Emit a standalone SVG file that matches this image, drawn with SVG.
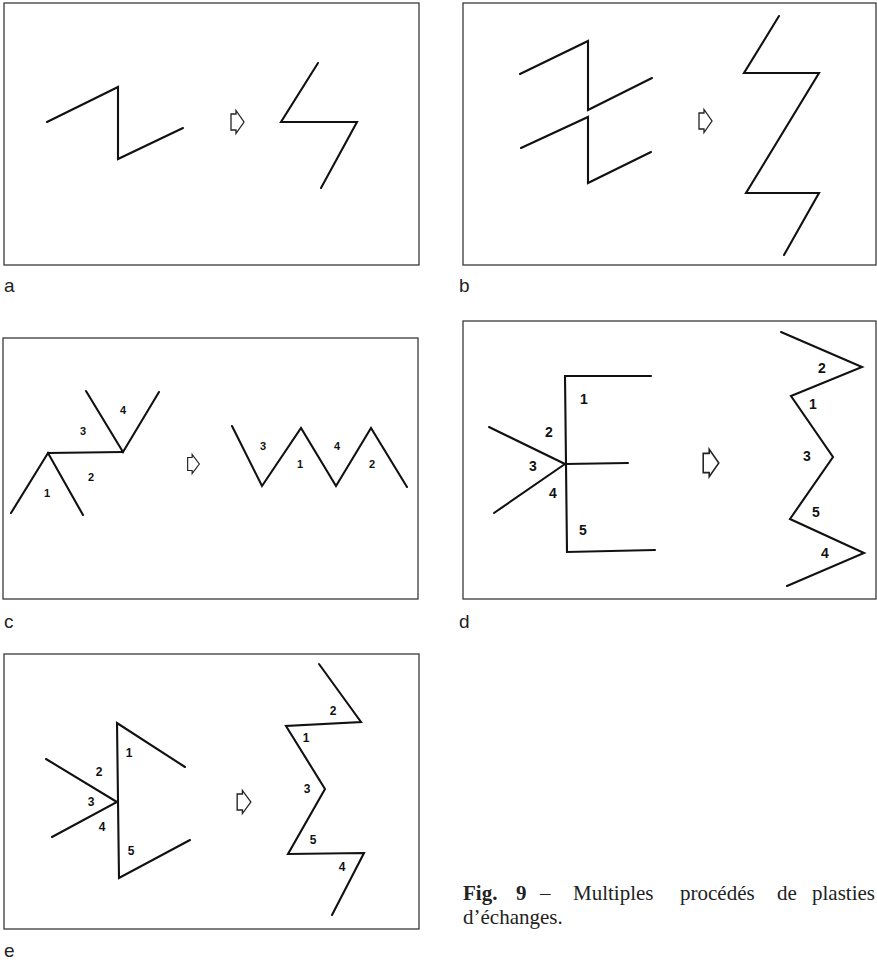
<svg xmlns="http://www.w3.org/2000/svg" width="877" height="963" viewBox="0 0 877 963">
<defs>
<style>
.frame{fill:#ffffff;stroke:#3a3a3a;stroke-width:1.3}
.ln{fill:none;stroke:#111;stroke-width:2.1;stroke-linejoin:miter;stroke-linecap:round}
.arr{fill:#fff;stroke:#222;stroke-width:1.3;stroke-linejoin:miter}
.lab{font-family:"Liberation Sans",Arial,sans-serif;font-size:19px;fill:#222}
.n{font-family:"Liberation Sans",Arial,sans-serif;font-weight:bold;fill:#111;text-anchor:middle}
.cap{font-family:"Liberation Serif","Times New Roman",serif;font-size:21px;fill:#222}
</style>
<path id="arrow" class="arr" d="M-6.5,-8 H-1.5 V-11.5 L6.5,0 L-1.5,11.5 V8 H-6.5 Z"/>
</defs>
<rect width="877" height="963" fill="#fff"/>

<g id="panel-a">
<rect class="frame" x="4" y="3" width="415" height="262"/>
<polyline class="ln" points="47,122 118,87 118,159 183,128"/>
<use href="#arrow" x="237.5" y="122"/>
<polyline class="ln" points="318,63 281,122 357,122 321,188"/>
<text class="lab" x="4" y="292">a</text>
</g>

<g id="panel-b">
<rect class="frame" x="463" y="3" width="413" height="262"/>
<polyline class="ln" points="520,74 588,41 588,110 652,78"/>
<polyline class="ln" points="521,148 588,117 588,183 651,152"/>
<use href="#arrow" x="705.5" y="121"/>
<polyline class="ln" points="779,16 744,73 819,73 746,193 819,193 784,255"/>
<text class="lab" x="459" y="292">b</text>
</g>

<g id="panel-c">
<rect class="frame" x="3" y="338" width="415" height="261"/>
<polyline class="ln" points="11,513 48,453 83,515"/>
<polyline class="ln" points="48,453 123,452"/>
<polyline class="ln" points="86,391 123,452 159,392"/>
<use href="#arrow" transform="translate(193.5,464) scale(0.9,0.82)"/>
<polyline class="ln" points="232,426 262,486 301,428 336,486 371,428 407,487"/>
<g class="n" font-size="11">
<text x="47" y="497">1</text>
<text x="91" y="481">2</text>
<text x="83" y="435">3</text>
<text x="123" y="414">4</text>
<text x="263" y="450">3</text>
<text x="300" y="468">1</text>
<text x="337" y="450">4</text>
<text x="372" y="468">2</text>
</g>
<text class="lab" x="4" y="628">c</text>
</g>

<g id="panel-d">
<rect class="frame" x="463" y="321" width="413" height="278"/>
<polyline class="ln" points="651,376 565,376 567,552 655,550"/>
<polyline class="ln" points="565,464 628,463"/>
<polyline class="ln" points="489,427 565,464 494,513"/>
<use href="#arrow" transform="translate(711,463) scale(1.2,1.2)"/>
<polyline class="ln" points="781,332 862,367 791,396 833,457 790,519 864,553 787,586"/>
<g class="n" font-size="14">
<text x="584" y="404">1</text>
<text x="549" y="437">2</text>
<text x="533" y="471">3</text>
<text x="553" y="498">4</text>
<text x="583" y="535">5</text>
<text x="822" y="373">2</text>
<text x="813" y="409">1</text>
<text x="807" y="461">3</text>
<text x="816" y="517">5</text>
<text x="825" y="558">4</text>
</g>
<text class="lab" x="459" y="628">d</text>
</g>

<g id="panel-e">
<rect class="frame" x="4" y="654" width="415" height="275"/>
<polyline class="ln" points="185,767 117,723 119,878 190,840"/>
<polyline class="ln" points="46,759 117,802 52,837"/>
<use href="#arrow" transform="translate(244,802) scale(1.05,1)"/>
<polyline class="ln" points="319,664 361,722 286,726 325,789 288,854 364,853 332,915"/>
<g class="n" font-size="12">
<text x="129" y="757">1</text>
<text x="99" y="776">2</text>
<text x="91" y="806">3</text>
<text x="102" y="831">4</text>
<text x="131" y="855">5</text>
<text x="333" y="715">2</text>
<text x="306" y="742">1</text>
<text x="307" y="793">3</text>
<text x="313" y="844">5</text>
<text x="342" y="871">4</text>
</g>
<text class="lab" x="4" y="957">e</text>
</g>

<g id="caption">
<text class="cap" x="463" y="900" font-weight="bold">Fig.</text>
<text class="cap" x="516" y="900" font-weight="bold">9</text>
<text class="cap" x="540" y="900">–</text>
<text class="cap" x="573" y="900">Multiples</text>
<text class="cap" x="680" y="900">procédés</text>
<text class="cap" x="777" y="900">de</text>
<text class="cap" x="812" y="900">plasties</text>
<text class="cap" x="463" y="924">d’échanges.</text>
</g>
</svg>
